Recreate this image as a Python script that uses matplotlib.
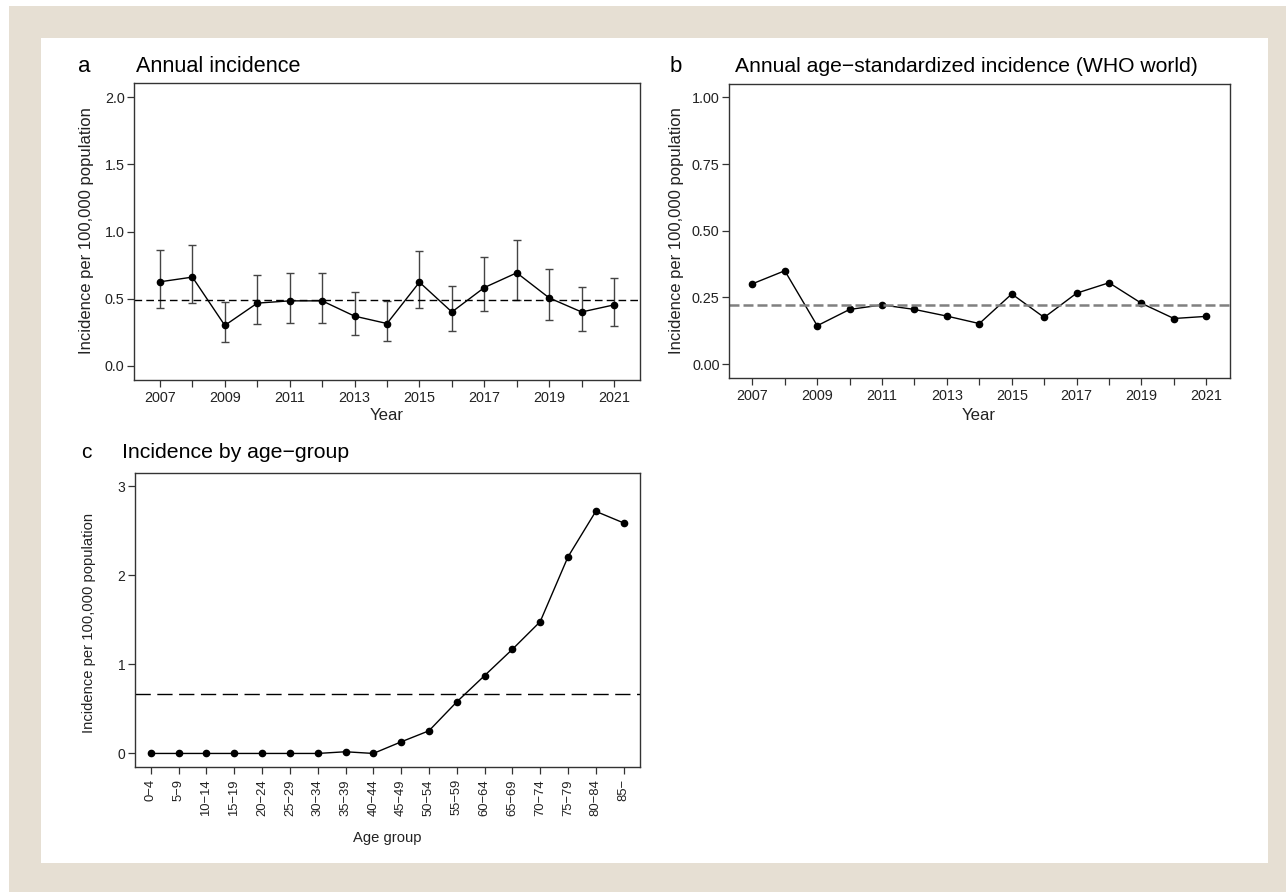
import matplotlib
matplotlib.use("Agg")
import matplotlib.pyplot as plt
from matplotlib.patches import Rectangle

# Data
years = list(range(2007, 2022))
annual_inc = [0.625, 0.66, 0.30, 0.466, 0.483, 0.483, 0.369, 0.314, 0.622,
              0.40, 0.582, 0.692, 0.505, 0.40, 0.453]
annual_lo = [0.433, 0.466, 0.177, 0.309, 0.321, 0.319, 0.229, 0.187, 0.433,
             0.257, 0.406, 0.49, 0.341, 0.257, 0.296]
annual_hi = [0.861, 0.90, 0.473, 0.675, 0.692, 0.687, 0.552, 0.483, 0.851,
             0.592, 0.809, 0.933, 0.719, 0.59, 0.652]
annual_mean = 0.488

asr_inc = [0.301, 0.35, 0.144, 0.205, 0.222, 0.205, 0.18, 0.152, 0.263,
           0.175, 0.266, 0.305, 0.228, 0.171, 0.179]
asr_mean = 0.222

age_groups = ["0\u22124", "5\u22129", "10\u221214", "15\u221219", "20\u221224",
              "25\u221229", "30\u221234", "35\u221239", "40\u221244", "45\u221249",
              "50\u221254", "55\u221259", "60\u221264", "65\u221269", "70\u221274",
              "75\u221279", "80\u221284", "85\u2212"]
age_inc = [0, 0, 0, 0, 0, 0, 0, 0.019, 0, 0.13, 0.254, 0.578, 0.873, 1.168,
           1.478, 2.205, 2.716, 2.586]
age_mean = 0.668

W, H = 1286, 892
plt.rcParams["font.family"] = ["Liberation Sans", "DejaVu Sans"]


def rect(l, t, r, b):
    return [l / W, 1 - b / H, (r - l) / W, (b - t) / H]


def fx(x):
    return x / W


def fy(y):
    return 1 - y / H


fig = plt.figure(figsize=(W / 100, H / 100), dpi=100)
fig.patch.set_facecolor("white")
fig.add_artist(Rectangle((fx(9), 0), 1 - fx(9), fy(6), transform=fig.transFigure,
                         facecolor="#e6dfd3", edgecolor="none", zorder=-10))
fig.add_artist(Rectangle((fx(41), fy(863)), fx(1268) - fx(41), fy(38) - fy(863),
                         transform=fig.transFigure, facecolor="white",
                         edgecolor="none", zorder=-9))

TXT = "#222222"


def style(ax, tsize):
    for s in ax.spines.values():
        s.set_color("#333333")
        s.set_linewidth(1.0)
    ax.tick_params(direction="out", length=4.8, width=0.9, color="#333333",
                   labelsize=tsize, labelcolor=TXT)


# Panel a
ax = fig.add_axes(rect(134, 83, 640, 380))
style(ax, 10.4)
err = [[m - lo for m, lo in zip(annual_inc, annual_lo)],
       [hi - m for m, hi in zip(annual_inc, annual_hi)]]
ax.errorbar(years, annual_inc, yerr=err, fmt="none", ecolor="#444444",
            elinewidth=1.0, capsize=2.6, capthick=1.0)
ax.plot(years, annual_inc, color="black", lw=1.0, marker="o", ms=4.5)
ax.axhline(annual_mean, color="black", lw=1.0, dashes=(5.5, 3))
ax.set_xlim(2006.2, 2021.8)
ax.set_ylim(-0.107, 2.107)
ax.set_yticks([0, 0.5, 1.0, 1.5, 2.0])
ax.set_yticklabels(["0.0", "0.5", "1.0", "1.5", "2.0"])
ax.set_xticks(years)
ax.set_xticklabels([str(y) if y % 2 == 1 else "" for y in years])
ax.tick_params(axis="x", pad=3)
ax.tick_params(axis="y", pad=2)
fig.text(fx(87), fy(231), "Incidence per 100,000 population", rotation=90,
         ha="center", va="center", fontsize=12, color=TXT)
fig.text(fx(387), fy(416), "Year", ha="center", va="center", fontsize=12.1,
         color=TXT)
fig.text(fx(78), fy(66), "a", ha="left", va="center", fontsize=16)
fig.text(fx(136), fy(66), "Annual incidence", ha="left", va="center",
         fontsize=15.6)

# Panel b
ax = fig.add_axes(rect(729, 84, 1230, 378))
style(ax, 10.4)
ax.plot(years, asr_inc, color="black", lw=1.0, marker="o", ms=4.5)
ax.axhline(asr_mean, color="#808080", lw=1.8, dashes=(4, 1.6))
ax.set_xlim(2006.28, 2021.73)
ax.set_ylim(-0.052, 1.05)
ax.set_yticks([0, 0.25, 0.5, 0.75, 1.0])
ax.set_yticklabels(["0.00", "0.25", "0.50", "0.75", "1.00"])
ax.set_xticks(years)
ax.set_xticklabels([str(y) if y % 2 == 1 else "" for y in years])
ax.tick_params(axis="x", pad=3)
ax.tick_params(axis="y", pad=2)
fig.text(fx(676), fy(231), "Incidence per 100,000 population", rotation=90,
         ha="center", va="center", fontsize=12, color=TXT)
fig.text(fx(979), fy(416), "Year", ha="center", va="center", fontsize=12.1,
         color=TXT)
fig.text(fx(670), fy(66), "b", ha="left", va="center", fontsize=16)
fig.text(fx(735), fy(66), "Annual age\u2212standardized incidence (WHO world)",
         ha="left", va="center", fontsize=15.2)

# Panel c
ax = fig.add_axes(rect(135, 473, 640, 767))
style(ax, 10)
xs = list(range(len(age_groups)))
ax.plot(xs, age_inc, color="black", lw=1.0, marker="o", ms=4.5)
ax.axhline(age_mean, color="black", lw=1.0, dashes=(11, 4.7))
ax.set_xlim(-0.57, 17.59)
ax.set_ylim(-0.152, 3.146)
ax.set_yticks([0, 1, 2, 3])
ax.set_xticks(xs)
ax.set_xticklabels(age_groups, rotation=90, fontsize=9.4)
ax.tick_params(axis="x", pad=4)
ax.tick_params(axis="y", pad=2)
fig.text(fx(89), fy(623), "Incidence per 100,000 population", rotation=90,
         ha="center", va="center", fontsize=10.6, color=TXT)
fig.text(fx(387), fy(838), "Age group", ha="center", va="center", fontsize=10.6,
         color=TXT)
fig.text(fx(81), fy(453), "c", ha="left", va="center", fontsize=15)
fig.text(fx(122), fy(453), "Incidence by age\u2212group", ha="left", va="center",
         fontsize=15.3)

fig.savefig("out.png", dpi=100)
